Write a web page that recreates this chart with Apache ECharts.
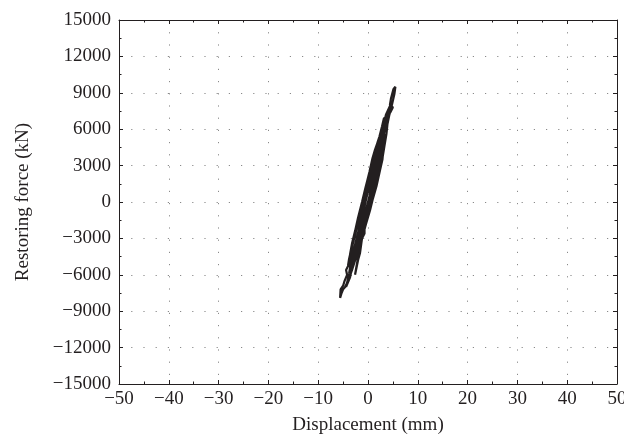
<!DOCTYPE html>
<html>
<head>
<meta charset="utf-8">
<script src="https://cdn.jsdelivr.net/npm/echarts@6/dist/echarts.min.js"></script>
<style>
  html, body { margin: 0; padding: 0; background: #fff; }
  #chart { width: 624px; height: 443px; }
</style>
</head>
<body>
<div id="chart"></div>
<script>
// hysteresis record (displacement mm, restoring force kN)
const displacement = [
  0, 1.0, 1.6, 1.9, 1.2, 0.4, -0.5, -1.0, -1.6, -1.9, -1.2, -0.5, 0.3, 0.9,
  1.5, 2.1, 2.8, 3.0, 2.2, 1.4, 0.6, 0.1, -0.5, -1.2, -1.6, -2.1, -2.8, -3.3, -2.6, -1.8, -1.0, -0.4, 0.4, 1.0, 1.7,
  2.4, 2.9, 3.1, 3.5, 2.8, 2.1, 1.3, 0.5, -0.2, -1.0, -1.8, -2.5, -3.3, -3.8, -4.0, -3.3, -2.5, -1.6, -0.8, 0.1, 0.9, 1.6,
  2.3, 2.9, 3.3, 3.7, 3.9, 4.3, 4.8, 5.3, 5.5, 5.1, 4.6, 4.4, 5.0, 4.5, 3.9, 3.2, 2.7, 2.0, 1.4, 0.9, 0.3, -0.3,
  -1.0, -1.7, -2.3, -2.9, -3.4, -3.9, -4.4, -4.2, -4.7, -5.0, -5.5, -5.6, -5.3, -5.0, -4.6, -3.9, -3.2, -2.5,
  -1.8, -1.1, -0.4, 0.3, 1.0, 1.7, 2.4, 3.0,
  3.6, 3.0, 2.2, 1.5, 0.8, 0.2, -0.5, -1.2, -2.0, -2.6, -3.2, -3.6, -3.0, -2.2, -1.4, -0.7, 0, 0.7, 1.3, 0.7, 0,
  -0.9, -1.6, -2.1, -2.6, -2.0, -1.6, -1.2, -0.7, -0.7, -0.2, 0.4, 0.8, 0.8, 1.2, 1.8, 2.1, 2.1, 2.6, 2.9, 3.4, 3.9,
  3.2, 2.8, 2.3, 1.9, 1.9, 1.4, 1.0, 0.5, 0.0, -0.5, -1.0, -1.5, -1.5, -1.9, -2.4, -2.8, -3.3, -3.6,
  -3.0, -2.3, -1.9, -1.2, -0.8, -0.3, 0.3, 0.7, 1.3, 1.7, 2.2, 2.7,
  2.1, 1.7, 1.1, 0.6, 0.1, -0.5, -1.0, -1.5, -2.0, -2.6, -3.1,
  -4.4, -3.6, -3.1, -2.4, -1.7, -1.0, -0.3, 0.3, 1.0, 1.6, 2.2, 2.6, 3.1, 3.5, 4.0, 4.5,
  4.1, 3.6, 3.1, 2.6, 2.1, 1.6, 0.9, 0.3, -0.4, -1.1, -1.7, -2.3, -2.9, -3.4, -3.8
];
const force = [
  0, 600, 1500, 2100, 2200, 1200, 300, -700, -1600, -2200, -2300, -1400, -400, 400,
  1400, 2500, 3600, 4200, 4400, 3800, 2700, 2000, 900, -300, -1000, -2000, -3000, -3900, -4200, -3600, -2700, -1800, -700, 300, 1300,
  2600, 3500, 4400, 5100, 5300, 4700, 3800, 2600, 1300, 0, -1300, -2600, -3800, -4700, -5200, -5400, -4600, -3500, -2400, -1000, 200, 1300,
  2500, 3600, 4600, 5600, 6400, 7200, 8000, 8900, 9500, 9300, 8500, 8000, 7800, 7400, 7000, 6400, 5700, 5000, 4300, 3600, 2500, 1500,
  300, -900, -2000, -3100, -4200, -5200, -5600, -6000, -6500, -6900, -7200, -7900, -7500, -7200, -7000, -6400, -5600, -4700,
  -3700, -2600, -1400, -200, 900, 2000, 3300, 4400,
  5400, 5600, 5000, 4200, 3200, 2300, 1200, 0, -1300, -2400, -3400, -4300, -4600, -3800, -2800, -1700, -600, 500, 1400, 1100, 0,
  -2000, -3600, -4800, -6000, -4800, -4200, -3000, -2600, -2200, -1200, -200, 900, 1400, 1800, 2600, 3200, 3600, 4500, 5400, 6200, 7000,
  6900, 6200, 5400, 4900, 4500, 3700, 2900, 2000, 1100, 200, -800, -1300, -1800, -2700, -3600, -4400, -5300, -6000,
  -5000, -4000, -3200, -2300, -1400, -500, 500, 1300, 2400, 3200, 4000, 4800,
  4700, 3900, 3000, 2000, 1100, 0, -1000, -2000, -2900, -3900, -4700,
  -7000, -6200, -5200, -4200, -3100, -2000, -900, 200, 1300, 2400, 3400, 4400, 5300, 6300, 7100, 8000,
  7900, 7200, 6300, 5400, 4500, 3500, 2300, 1300, 200, -1000, -2100, -3000, -4000, -4900, -5900
];

const xRange = [-50, 50];
const yRange = [-15000, 15000];

const ink = "#231f20";
const font = "Liberation Serif";

const points = displacement.map((d, i) => [d, force[i]]);

const chart = echarts.init(document.getElementById("chart"));

const tickCommon = {
  axisLine: { show: true, onZero: false, lineStyle: { color: ink, width: 1 } },
  axisTick: { show: true, inside: true, length: 4, lineStyle: { color: ink, width: 1 } },
  minorTick: { show: true, splitNumber: 2, length: 2.5, lineStyle: { color: ink, width: 1 } }
};

const gridDots = {
  show: true,
  lineStyle: { color: "#8a8a8a", width: 1, type: [1.2, 11] }
};

chart.setOption({
  backgroundColor: "#fff",
  animation: false,
  grid: { left: 119, right: 7, top: 20, bottom: 59, outerBoundsMode: "none", containLabel: false },
  xAxis: [
    {
      type: "value",
      min: xRange[0],
      max: xRange[1],
      interval: 10,
      position: "bottom",
      name: "Displacement (mm)",
      nameLocation: "middle",
      nameGap: 32,
      nameTextStyle: { fontFamily: font, fontSize: 19, color: ink },
      axisLabel: {
        fontFamily: font, fontSize: 19, color: ink, margin: 6,
        formatter: v => String(v).replace("-", "\u2212")
      },
      splitLine: gridDots,
      ...tickCommon
    },
    {
      type: "value",
      min: xRange[0],
      max: xRange[1],
      interval: 10,
      position: "top",
      axisLabel: { show: false },
      splitLine: { show: false },
      ...tickCommon
    }
  ],
  yAxis: [
    {
      type: "value",
      min: yRange[0],
      max: yRange[1],
      interval: 3000,
      position: "left",
      name: "Restoring force (kN)",
      nameLocation: "middle",
      nameGap: 86,
      nameTextStyle: { fontFamily: font, fontSize: 19, color: ink },
      axisLabel: {
        fontFamily: font, fontSize: 19, color: ink, margin: 8,
        formatter: v => String(v).replace("-", "\u2212")
      },
      splitLine: gridDots,
      ...tickCommon
    },
    {
      type: "value",
      min: yRange[0],
      max: yRange[1],
      interval: 3000,
      position: "right",
      axisLabel: { show: false },
      splitLine: { show: false },
      ...tickCommon
    }
  ],
  series: [
    {
      type: "line",
      data: points,
      xAxisIndex: 0,
      yAxisIndex: 0,
      showSymbol: false,
      lineStyle: { color: ink, width: 2.2 },
      silent: true
    }
  ]
});
</script>
</body>
</html>
